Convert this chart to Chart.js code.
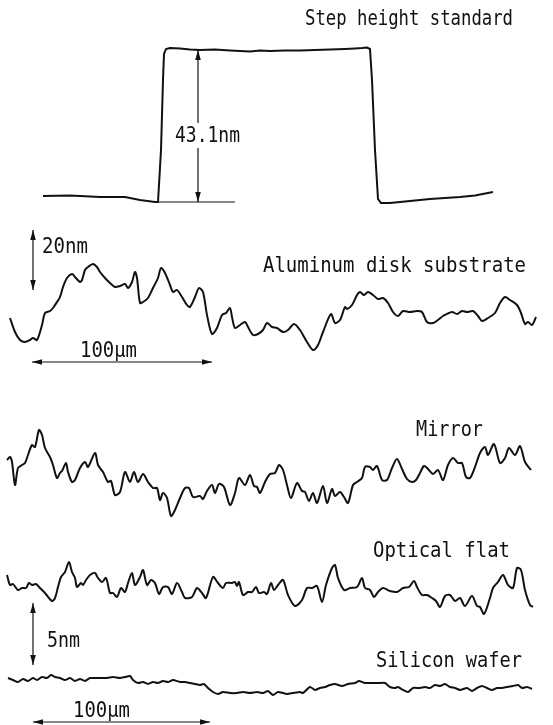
<!DOCTYPE html>
<html>
<head>
<meta charset="utf-8">
<script src="https://cdn.jsdelivr.net/npm/chart.js@4.4.1/dist/chart.umd.min.js"></script>
<style>
  body { margin: 0; background: #fff; }
  canvas { display: block; }
</style>
</head>
<body>
<canvas id="profiles" width="553" height="725"></canvas>
<script>
// profile traces, in figure units (x across, y down the page)
var stepX = [43, 70, 100, 125, 140, 155, 158, 161, 163, 164, 166, 170, 180, 190, 200, 215, 230, 240, 250, 260, 270, 285, 300, 315, 330, 345, 355, 362, 367, 370, 372, 375, 378, 381, 390, 400, 415, 430, 445, 460, 475, 493];
var stepY = [196, 195.5, 197, 197, 200, 202, 202, 150, 80, 54, 49, 48, 48.5, 49.5, 50, 49.5, 50.5, 51, 51.5, 50.5, 51, 50.5, 50.5, 50, 49.5, 49, 48.5, 48, 47.5, 49, 80, 150, 199, 203, 203, 202, 200.5, 199, 198, 197, 195.5, 192];

var alumX = [10, 15, 20, 25, 30, 33, 37, 42, 45, 50, 53, 57, 60, 63, 67, 72, 75, 80, 82, 85, 88, 93, 97, 100, 105, 110, 115, 120, 125, 128, 132, 135, 137, 140, 143, 148, 153, 158, 161, 165, 170, 173, 177, 182, 187, 190, 195, 199, 203, 207, 212, 217, 222, 226, 230, 232, 235, 240, 245, 248, 253, 258, 263, 267, 272, 277, 283, 288, 294, 300, 307, 313, 318, 323, 331, 335, 340, 345, 347, 352, 357, 360, 364, 368, 373, 378, 383, 388, 393, 398, 403, 410, 417, 422, 427, 433, 438, 443, 452, 457, 462, 467, 473, 478, 482, 488, 495, 500, 505, 510, 517, 521, 525, 528, 532, 536];
var alumY = [318, 332, 340, 342, 340, 338, 340, 325, 313, 311, 308, 302, 297, 287, 278, 274, 277, 282, 280, 270, 267, 264, 267, 272, 278, 283, 287, 286, 284, 288, 282, 272, 278, 303, 302, 298, 288, 278, 268, 273, 285, 292, 290, 297, 305, 307, 297, 288, 292, 315, 334, 328, 315, 313, 308, 317, 328, 325, 322, 327, 335, 334, 330, 323, 327, 328, 332, 330, 324, 330, 342, 350, 345, 332, 314, 323, 320, 307, 309, 305, 295, 292, 295, 292, 295, 299, 298, 303, 312, 316, 311, 312, 311, 312, 322, 323, 320, 316, 312, 314, 311, 312, 311, 316, 321, 318, 313, 303, 297, 300, 305, 313, 324, 322, 325, 317];

var mirrorX = [7, 10, 12, 15, 18, 22, 25, 28, 32, 35, 39, 42, 45, 50, 53, 57, 60, 62, 66, 68, 72, 75, 80, 85, 88, 95, 98, 103, 108, 111, 115, 120, 125, 130, 134, 138, 143, 148, 153, 157, 160, 163, 167, 171, 175, 180, 185, 189, 193, 200, 203, 207, 212, 215, 219, 224, 230, 235, 239, 245, 250, 254, 257, 260, 265, 270, 275, 279, 283, 287, 291, 297, 302, 305, 309, 313, 317, 323, 327, 332, 335, 340, 344, 348, 353, 357, 362, 365, 370, 373, 377, 382, 387, 392, 397, 402, 407, 412, 416, 420, 424, 428, 433, 438, 443, 448, 453, 458, 462, 466, 470, 475, 480, 485, 488, 494, 500, 505, 509, 515, 520, 525, 531];
var mirrorY = [460, 457, 462, 485, 468, 465, 463, 455, 445, 447, 430, 435, 448, 457, 465, 478, 473, 471, 463, 472, 482, 480, 468, 462, 467, 453, 465, 472, 482, 481, 495, 492, 472, 482, 472, 482, 474, 482, 488, 488, 500, 493, 498, 516, 510, 498, 488, 488, 497, 496, 499, 491, 485, 493, 484, 487, 505, 493, 478, 485, 475, 486, 487, 493, 482, 474, 473, 465, 470, 485, 498, 483, 491, 492, 501, 493, 503, 486, 503, 489, 496, 492, 497, 503, 485, 482, 478, 467, 467, 470, 466, 480, 480, 468, 459, 469, 479, 482, 480, 473, 466, 469, 474, 470, 480, 465, 458, 463, 463, 477, 478, 467, 453, 447, 455, 444, 463, 458, 448, 455, 446, 462, 470];

var flatX = [7, 10, 13, 18, 22, 26, 29, 32, 36, 40, 45, 52, 55, 58, 61, 65, 69, 72, 75, 77, 81, 83, 86, 90, 95, 98, 102, 106, 110, 113, 117, 121, 125, 128, 132, 135, 140, 143, 147, 151, 155, 159, 163, 168, 172, 177, 182, 185, 192, 197, 202, 206, 213, 218, 223, 226, 232, 235, 237, 239, 243, 248, 252, 256, 259, 264, 267, 271, 274, 278, 283, 288, 295, 302, 307, 312, 317, 322, 326, 332, 335, 338, 344, 350, 357, 362, 365, 370, 374, 378, 383, 390, 397, 403, 409, 414, 417, 422, 427, 432, 436, 440, 445, 450, 455, 460, 465, 472, 477, 480, 484, 490, 493, 498, 503, 508, 513, 517, 521, 525, 530, 533];
var flatY = [575, 585, 584, 590, 588, 588, 583, 585, 584, 588, 593, 601, 598, 587, 577, 572, 562, 572, 578, 587, 583, 585, 580, 575, 573, 578, 582, 578, 593, 593, 597, 588, 592, 583, 573, 585, 577, 570, 585, 580, 583, 594, 587, 587, 594, 583, 592, 598, 597, 588, 593, 598, 577, 583, 588, 583, 583, 582, 586, 582, 595, 592, 592, 587, 593, 592, 594, 583, 590, 585, 580, 595, 606, 600, 588, 588, 586, 602, 585, 568, 565, 578, 590, 588, 587, 578, 588, 590, 597, 592, 588, 591, 592, 588, 587, 581, 587, 595, 595, 598, 601, 607, 596, 595, 601, 598, 606, 596, 606, 607, 614, 598, 588, 582, 575, 585, 588, 568, 570, 590, 605, 607];

var siliconX = [8, 13, 18, 23, 28, 33, 37, 42, 47, 51, 55, 60, 65, 70, 75, 80, 85, 90, 95, 100, 107, 113, 120, 125, 130, 133, 138, 143, 148, 153, 158, 163, 168, 173, 180, 185, 190, 195, 200, 204, 208, 213, 218, 223, 230, 237, 243, 250, 257, 263, 268, 273, 278, 287, 293, 300, 303, 310, 315, 320, 325, 330, 335, 342, 348, 355, 359, 365, 372, 378, 385, 390, 395, 398, 403, 408, 413, 420, 425, 430, 435, 440, 445, 450, 455, 460, 467, 472, 477, 482, 487, 492, 497, 502, 507, 513, 518, 522, 527, 532];
var siliconY = [678, 680, 682, 679, 681, 678, 680, 677, 678, 675, 677, 678, 680, 678, 681, 679, 681, 678, 678, 678, 678, 677, 678, 677, 676, 680, 683, 682, 684, 682, 683, 681, 682, 680, 682, 682, 683, 684, 685, 684, 688, 692, 694, 692, 693, 693, 692, 693, 692, 693, 691, 695, 692, 694, 693, 692, 693, 687, 690, 688, 687, 685, 684, 686, 684, 683, 681, 683, 683, 683, 683, 687, 688, 687, 690, 692, 688, 688, 687, 688, 685, 686, 684, 687, 688, 690, 688, 691, 688, 686, 688, 690, 688, 688, 687, 686, 685, 688, 687, 689];

// annotation text: text, left, right, baseline
var labels = [
  { text: 'Step height standard', x0: 305, x1: 513, y: 25 },
  { text: '43.1nm', x0: 175, x1: 240, y: 142, clear: true },
  { text: '20nm', x0: 42, x1: 88, y: 253 },
  { text: 'Aluminum disk substrate', x0: 263, x1: 526, y: 272 },
  { text: '100\u03bcm', x0: 80, x1: 137, y: 357 },
  { text: 'Mirror', x0: 416, x1: 483, y: 436 },
  { text: 'Optical flat', x0: 373, x1: 510, y: 557 },
  { text: '5nm', x0: 47, x1: 80, y: 647 },
  { text: 'Silicon wafer', x0: 376, x1: 522, y: 667 },
  { text: '100\u03bcm', x0: 73, x1: 130, y: 717 }
];

// scale arrows (double headed) and the step base line
var arrows = [
  { x0: 198, y0: 50, x1: 198, y1: 202, heads: true },
  { x0: 157, y0: 202, x1: 235, y1: 202, heads: false },
  { x0: 33, y0: 230, x1: 33, y1: 290, heads: true },
  { x0: 32, y0: 362, x1: 212, y1: 362, heads: true },
  { x0: 33, y0: 603, x1: 33, y1: 665, heads: true },
  { x0: 33, y0: 722, x1: 210, y1: 722, heads: true }
];

function trace(xs, ys, tension) {
  return {
    data: xs.map(function (x, i) { return { x: x, y: ys[i] }; }),
    showLine: true,
    borderColor: '#111',
    borderWidth: 2,
    pointRadius: 0,
    tension: tension
  };
}

function head(ctx, x, y, ang) {
  ctx.beginPath();
  ctx.moveTo(x, y);
  ctx.lineTo(x - 10 * Math.cos(ang) + 2.8 * Math.sin(ang), y - 10 * Math.sin(ang) - 2.8 * Math.cos(ang));
  ctx.lineTo(x - 10 * Math.cos(ang) - 2.8 * Math.sin(ang), y - 10 * Math.sin(ang) + 2.8 * Math.cos(ang));
  ctx.closePath();
  ctx.fill();
}

var notes = {
  id: 'notes',
  afterDatasetsDraw: function (chart) {
    var ctx = chart.ctx, sx = chart.scales.x, sy = chart.scales.y;
    ctx.save();
    ctx.strokeStyle = '#111';
    ctx.fillStyle = '#111';
    ctx.lineWidth = 1.2;
    arrows.forEach(function (a) {
      var x0 = sx.getPixelForValue(a.x0), y0 = sy.getPixelForValue(a.y0);
      var x1 = sx.getPixelForValue(a.x1), y1 = sy.getPixelForValue(a.y1);
      ctx.beginPath();
      ctx.moveTo(x0, y0);
      ctx.lineTo(x1, y1);
      ctx.stroke();
      if (a.heads) {
        var ang = Math.atan2(y1 - y0, x1 - x0);
        head(ctx, x1, y1, ang);
        head(ctx, x0, y0, ang + Math.PI);
      }
    });
    ctx.font = '21px "DejaVu Sans Mono"';
    ctx.textBaseline = 'alphabetic';
    labels.forEach(function (l) {
      var x0 = sx.getPixelForValue(l.x0), x1 = sx.getPixelForValue(l.x1);
      var y = sy.getPixelForValue(l.y);
      if (l.clear) {
        ctx.fillStyle = '#fff';
        ctx.fillRect(x0 - 2, y - 19, x1 - x0 + 4, 25);
        ctx.fillStyle = '#111';
      }
      var w = ctx.measureText(l.text).width;
      ctx.save();
      ctx.translate(x0, y);
      ctx.scale((x1 - x0) / w, 1);
      ctx.fillText(l.text, 0, 0);
      ctx.restore();
    });
    ctx.restore();
  }
};

new Chart(document.getElementById('profiles'), {
  type: 'scatter',
  data: {
    datasets: [
      trace(stepX, stepY, 0),
      trace(alumX, alumY, 0.3),
      trace(mirrorX, mirrorY, 0.3),
      trace(flatX, flatY, 0.3),
      trace(siliconX, siliconY, 0.2)
    ]
  },
  options: {
    responsive: false,
    animation: false,
    layout: { padding: 0 },
    scales: {
      x: { type: 'linear', min: 0, max: 553, display: false },
      y: { type: 'linear', min: 0, max: 725, reverse: true, display: false }
    },
    plugins: { legend: { display: false }, tooltip: { enabled: false } }
  },
  plugins: [notes]
});
</script>
</body>
</html>
